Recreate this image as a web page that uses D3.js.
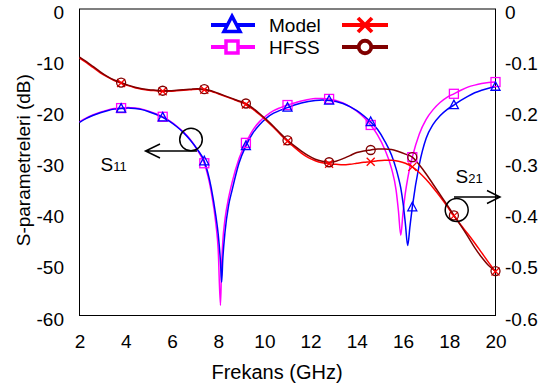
<!DOCTYPE html>
<html>
<head>
<meta charset="utf-8">
<script src="https://cdn.jsdelivr.net/npm/d3@7/dist/d3.min.js"></script>
<style>
  html, body { margin: 0; padding: 0; background: #fff; }
  svg { display: block; font-family: "Liberation Sans", Arial, sans-serif; }
</style>
</head>
<body>
<svg id="chart" width="543" height="391"></svg>
<script>
// Frequency grid (GHz) for the reflection curves, denser around the two resonances
const freqS11 = [2, 2.3, 2.6, 2.9, 3.2, 3.5, 3.8, 4.1, 4.4, 4.7, 5.0, 5.3, 5.6, 5.9, 6.2, 6.5, 6.8, 7.1, 7.4, 7.7, 7.9, 8.0, 8.1, 8.15, 8.2, 8.3, 8.45, 8.6, 8.9, 9.2, 9.5, 9.8, 10.1, 10.4, 10.7, 11.0, 11.3, 11.6, 11.9, 12.2, 12.5, 12.8, 13.1, 13.4, 13.7, 14.0, 14.3, 14.6, 14.9, 15.2, 15.5, 15.7, 15.8, 15.9, 16.0, 16.1, 16.2, 16.3, 16.4, 16.7, 17.0, 17.3, 17.6, 17.9, 18.2, 18.5, 18.8, 19.1, 19.4, 19.7, 20.0];

// S11 (dB), left axis
const modelS11 = [-22.2, -21.4, -20.8, -20.3, -19.9, -19.6, -19.5, -19.4, -19.5, -19.7, -20.1, -20.6, -21.2, -22.0, -23.0, -24.2, -25.7, -27.5, -29.8, -35.0, -40.5, -44.0, -49.5, -53.5, -49.0, -43.5, -38.5, -35.5, -30.2, -26.8, -24.3, -22.6, -21.3, -20.4, -19.8, -19.3, -18.8, -18.4, -18.1, -17.9, -17.8, -17.9, -18.1, -18.5, -19.1, -19.9, -20.9, -22.1, -23.6, -25.8, -28.6, -31.3, -33.0, -35.0, -38.0, -42.0, -46.3, -42.5, -38.8, -30.5, -25.3, -22.6, -20.9, -19.7, -18.8, -17.9, -17.1, -16.4, -15.9, -15.5, -15.2];
const hfssS11  = [-22.1, -21.3, -20.7, -20.2, -19.8, -19.5, -19.4, -19.3, -19.4, -19.6, -20.0, -20.5, -21.1, -21.9, -22.9, -24.1, -25.6, -27.6, -30.2, -35.8, -42.0, -47.0, -58.0, -50.0, -45.5, -41.0, -37.0, -34.0, -29.3, -26.2, -23.7, -22.0, -20.8, -19.9, -19.3, -18.8, -18.4, -18.0, -17.7, -17.5, -17.5, -17.6, -17.9, -18.4, -19.1, -20.0, -21.2, -22.7, -24.7, -27.4, -31.2, -35.5, -39.5, -44.3, -39.8, -36.0, -33.2, -30.9, -29.0, -24.5, -21.6, -19.7, -18.3, -17.3, -16.6, -15.9, -15.3, -14.9, -14.6, -14.4, -14.3];

// Frequency grid (GHz) for the transmission curves
const freqS21 = [2, 2.3, 2.6, 2.9, 3.2, 3.5, 3.8, 4.1, 4.4, 4.7, 5.0, 5.3, 5.6, 5.9, 6.2, 6.5, 6.8, 7.1, 7.4, 7.7, 8.0, 8.3, 8.6, 8.9, 9.2, 9.5, 9.8, 10.1, 10.4, 10.7, 11.0, 11.3, 11.6, 11.9, 12.2, 12.5, 12.8, 13.1, 13.4, 13.7, 14.0, 14.3, 14.6, 14.9, 15.2, 15.5, 15.8, 16.1, 16.4, 16.7, 17.0, 17.3, 17.6, 17.9, 18.2, 18.5, 18.8, 19.1, 19.4, 19.7, 20.0];

// S21 (dB), right axis
const modelS21 = [-0.096, -0.105, -0.115, -0.125, -0.133, -0.140, -0.145, -0.150, -0.154, -0.157, -0.159, -0.160, -0.161, -0.161, -0.160, -0.159, -0.158, -0.157, -0.158, -0.161, -0.166, -0.171, -0.176, -0.181, -0.187, -0.196, -0.207, -0.219, -0.232, -0.246, -0.259, -0.271, -0.282, -0.291, -0.297, -0.301, -0.303, -0.304, -0.305, -0.304, -0.302, -0.300, -0.299, -0.297, -0.296, -0.296, -0.298, -0.302, -0.309, -0.320, -0.334, -0.350, -0.367, -0.386, -0.405, -0.423, -0.440, -0.458, -0.477, -0.496, -0.514];
const hfssS21  = [-0.094, -0.103, -0.113, -0.123, -0.132, -0.139, -0.144, -0.149, -0.153, -0.156, -0.158, -0.159, -0.160, -0.160, -0.159, -0.158, -0.157, -0.156, -0.157, -0.160, -0.165, -0.170, -0.175, -0.180, -0.185, -0.194, -0.205, -0.217, -0.230, -0.244, -0.257, -0.268, -0.278, -0.287, -0.294, -0.298, -0.300, -0.298, -0.293, -0.287, -0.281, -0.278, -0.276, -0.274, -0.274, -0.275, -0.279, -0.284, -0.290, -0.305, -0.323, -0.343, -0.363, -0.383, -0.404, -0.424, -0.445, -0.467, -0.486, -0.502, -0.513];

// Frequencies carrying a marker symbol
const markerFreqs = [3.8, 5.6, 7.4, 9.2, 11.0, 12.8, 14.6, 16.4, 18.2, 20.0];

// Axis ticks
const xTicks = [2, 4, 6, 8, 10, 12, 14, 16, 18, 20];
const yLeftTicks = [0, -10, -20, -30, -40, -50, -60];
const yRightTicks = [0, -0.1, -0.2, -0.3, -0.4, -0.5, -0.6];

const seriesNames = ["Model", "HFSS"];

const svg = d3.select("#chart");
const plot = { left: 79.5, right: 495.5, top: 9, bottom: 315.5 };

const x = d3.scaleLinear().domain([2, 20]).range([plot.left, plot.right]);
const yL = d3.scaleLinear().domain([-60, 0]).range([plot.bottom, plot.top]);
const yR = d3.scaleLinear().domain([-0.6, 0]).range([plot.bottom, plot.top]);

const FONT = 19;
// plain hyphen for negative numbers
const fmtInt = d => String(d);
const fmtDec = d => d === 0 ? "0" : d.toFixed(1);

// Plot frame
svg.append("rect")
  .attr("x", plot.left).attr("y", plot.top)
  .attr("width", plot.right - plot.left).attr("height", plot.bottom - plot.top)
  .attr("fill", "none").attr("stroke", "#000").attr("stroke-width", 1);

// Axes: labels only, no tick marks or domain lines
const axisBottom = d3.axisBottom(x).tickValues(xTicks).tickSize(0).tickPadding(0).tickFormat(fmtInt);
const gx = svg.append("g").attr("transform", `translate(0,${plot.bottom})`).call(axisBottom);
gx.select(".domain").remove();
gx.selectAll("text").attr("y", 32.5).attr("dy", null)
  .attr("font-size", FONT).attr("font-family", null).attr("fill", "#000");

const axisLeft = d3.axisLeft(yL).tickValues(yLeftTicks).tickSize(0).tickPadding(0).tickFormat(fmtInt);
const gl = svg.append("g").attr("transform", `translate(64,0)`).call(axisLeft);
gl.select(".domain").remove();
gl.selectAll("text").attr("x", 0).attr("dy", "0.5em")
  .attr("font-size", FONT).attr("font-family", null).attr("fill", "#000");

const axisRight = d3.axisRight(yR).tickValues(yRightTicks).tickSize(0).tickPadding(0).tickFormat(fmtDec);
const gr = svg.append("g").attr("transform", `translate(505,0)`).call(axisRight);
gr.select(".domain").remove();
gr.selectAll("text").attr("x", 0).attr("dy", "0.5em")
  .attr("font-size", FONT).attr("font-family", null).attr("fill", "#000");

// Axis titles
svg.append("text")
  .attr("x", 277).attr("y", 379)
  .attr("text-anchor", "middle").attr("font-size", FONT + 1)
  .text("Frekans (GHz)");
svg.append("text")
  .attr("transform", `translate(30,${(plot.top + plot.bottom) / 2 - 2}) rotate(-90)`)
  .attr("text-anchor", "middle").attr("font-size", FONT)
  .text("S-parametreleri (dB)");

// Series definitions
const series = [
  { freq: freqS11, vals: hfssS11,  y: yL, color: "#FF00FF", marker: "square" },
  { freq: freqS11, vals: modelS11, y: yL, color: "#0000FF", marker: "triangle" },
  { freq: freqS21, vals: modelS21, y: yR, color: "#FF0000", marker: "cross" },
  { freq: freqS21, vals: hfssS21,  y: yR, color: "#800000", marker: "circle" }
];

function drawMarker(g, type, cx, cy, s, color, sw, fill) {
  if (type === "triangle") {
    const h = s * 0.95;
    g.append("path")
      .attr("d", `M${cx},${cy - h * 0.58}L${cx + s / 2},${cy + h * 0.42}L${cx - s / 2},${cy + h * 0.42}Z`)
      .attr("fill", fill).attr("stroke", color).attr("stroke-width", sw).attr("stroke-linejoin", "miter");
  } else if (type === "square") {
    g.append("rect")
      .attr("x", cx - s / 2).attr("y", cy - s / 2).attr("width", s).attr("height", s)
      .attr("fill", fill).attr("stroke", color).attr("stroke-width", sw);
  } else if (type === "circle") {
    g.append("circle")
      .attr("cx", cx).attr("cy", cy).attr("r", s / 2)
      .attr("fill", fill).attr("stroke", color).attr("stroke-width", sw);
  } else if (type === "cross") {
    const a = s / 2;
    g.append("path")
      .attr("d", `M${cx - a},${cy - a}L${cx + a},${cy + a}M${cx - a},${cy + a}L${cx + a},${cy - a}`)
      .attr("fill", "none").attr("stroke", color).attr("stroke-width", sw);
  }
}

const curves = svg.append("g");
series.forEach(s => {
  const pts = s.freq.map((f, i) => [f, s.vals[i]]);
  const line = d3.line().x(d => x(d[0])).y(d => s.y(d[1])).curve(d3.curveMonotoneX);
  curves.append("path").datum(pts)
    .attr("d", line).attr("fill", "none")
    .attr("stroke", s.color).attr("stroke-width", 1.5);
});

const markSize = { triangle: 9, square: 9, circle: 9, cross: 8 };
series.forEach(s => {
  const g = svg.append("g");
  markerFreqs.forEach(mf => {
    const i = s.freq.findIndex(f => Math.abs(f - mf) < 1e-6);
    if (i < 0) return;
    drawMarker(g, s.marker, x(s.freq[i]), s.y(s.vals[i]), markSize[s.marker], s.color, 1.3, "none");
  });
});

// Legend
const legend = svg.append("g");
const legendRows = [
  { y: 25, left: { color: "#0000FF", marker: "triangle" }, right: { color: "#FF0000", marker: "cross" }, label: seriesNames[0] },
  { y: 47, left: { color: "#FF00FF", marker: "square" },   right: { color: "#800000", marker: "circle" }, label: seriesNames[1] }
];
const legSize = { triangle: 16, square: 12, circle: 12.5, cross: 14 };
legendRows.forEach(r => {
  legend.append("line").attr("x1", 211).attr("x2", 255).attr("y1", r.y).attr("y2", r.y)
    .attr("stroke", r.left.color).attr("stroke-width", 4);
  drawMarker(legend, r.left.marker, 232, r.y, legSize[r.left.marker], r.left.color, 3.5, "#fff");
  legend.append("text").attr("x", 269).attr("y", r.y + 7)
    .attr("font-size", FONT).text(r.label);
  legend.append("line").attr("x1", 342).attr("x2", 388).attr("y1", r.y).attr("y2", r.y)
    .attr("stroke", r.right.color).attr("stroke-width", 4);
  drawMarker(legend, r.right.marker, 365, r.y, legSize[r.right.marker], r.right.color, 3.8, "#fff");
});

// Annotations: S11 points to the left axis, S21 to the right axis
const ann = svg.append("g").attr("stroke", "#000").attr("stroke-width", 1.5).attr("fill", "none");
ann.append("circle").attr("cx", 191).attr("cy", 139.5).attr("r", 11.3);
ann.append("path").attr("d", "M197,151H145.5M160,144L145.5,151L160,158");
ann.append("circle").attr("cx", 456.7).attr("cy", 210).attr("r", 11.5);
ann.append("path").attr("d", "M454,197H500M487,190.5L500,197L487,203.5");

function subLabel(xp, yp, main, sub) {
  const t = svg.append("text").attr("x", xp).attr("y", yp).attr("font-size", FONT);
  t.append("tspan").text(main);
  t.append("tspan").attr("font-size", 13).text(sub);
}
subLabel(100.5, 170.5, "S", "11");
subLabel(455.5, 183, "S", "21");
</script>
</body>
</html>
